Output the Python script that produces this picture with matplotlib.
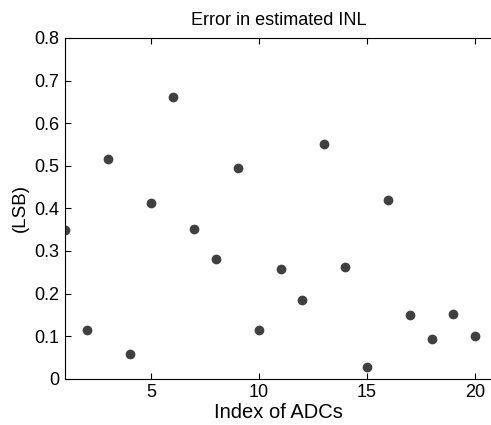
import numpy as np
import matplotlib.pyplot as plt

plt.rcParams['font.family'] = ['Liberation Sans', 'DejaVu Sans']

# 数据
adc_index = np.arange(1, 21)
inl_error = [0.348, 0.115, 0.515, 0.059, 0.412, 0.661, 0.352, 0.282, 0.495, 0.115,
             0.258, 0.185, 0.550, 0.262, 0.027, 0.420, 0.150, 0.094, 0.153, 0.101]
xticks = [5, 10, 15, 20]
yticks = [0, 0.1, 0.2, 0.3, 0.4, 0.5, 0.6, 0.7, 0.8]
ytick_labels = ["0", "0.1", "0.2", "0.3", "0.4", "0.5", "0.6", "0.7", "0.8"]

fig = plt.figure(figsize=(4.91, 4.25), dpi=100)
# 右边框在原图中被裁掉
ax = fig.add_axes([0.1324, 0.109, 0.8696, 0.8016])

ax.plot(adc_index, inl_error, linestyle="none", marker="o", markersize=6,
        color="#404040", markeredgecolor="#404040")

ax.set_xlim(1, 20.8)
ax.set_ylim(0, 0.8)
ax.set_xticks(xticks)
ax.set_yticks(yticks)
ax.set_yticklabels(ytick_labels)
ax.tick_params(direction="in", length=4, width=0.8, labelsize=13, pad=4,
               top=True, right=False, colors="black")
for s in ax.spines.values():
    s.set_linewidth(0.8)

ax.set_title("Error in estimated INL", fontsize=13, pad=9)
ax.set_xlabel("Index of ADCs", fontsize=14.5, labelpad=1)
ax.set_ylabel("(LSB)", fontsize=13.5, labelpad=4)

fig.savefig("out.png", dpi=100)
